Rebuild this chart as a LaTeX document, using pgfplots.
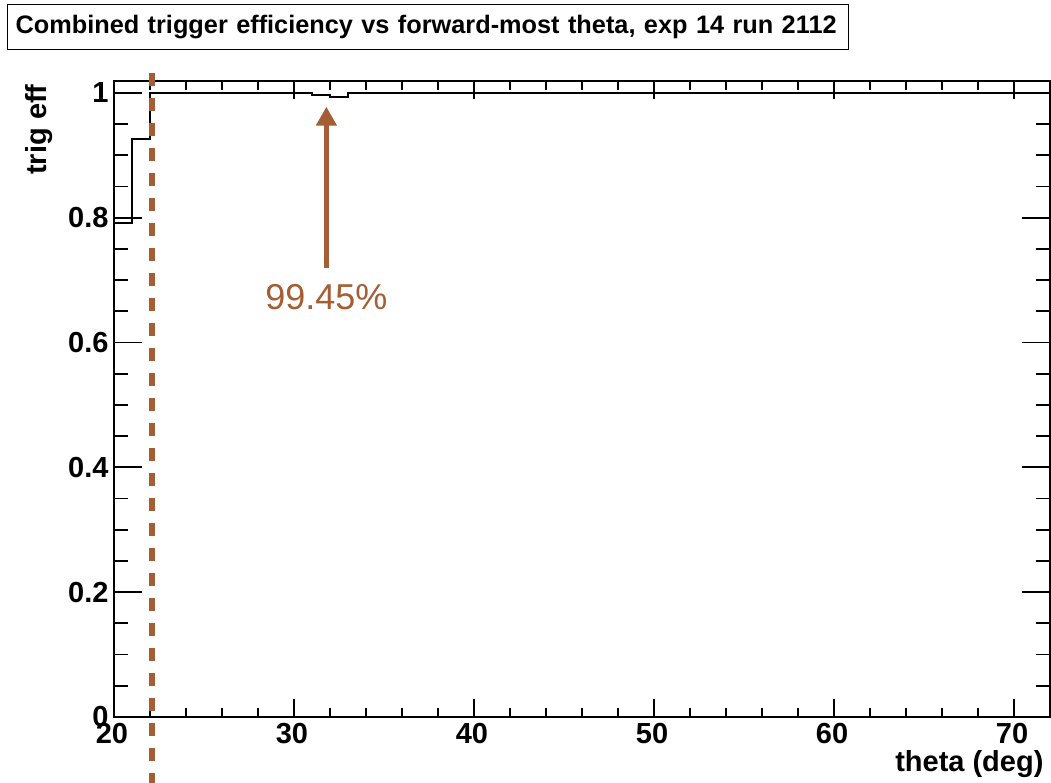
\documentclass[border=0pt]{standalone}
\usepackage{pgfplots}
\pgfplotsset{compat=1.18}
\usepackage{fontspec}
\setmainfont{Liberation Sans}
\usetikzlibrary{arrows.meta}
\definecolor{rootbrown}{RGB}{165,94,52}
\newcommand{\fs}[1]{\fontsize{#1}{#1}\selectfont}
\begin{document}
\begin{tikzpicture}
\useasboundingbox (-114bp,-66bp) rectangle (937bp,717bp);
% axis carrying the y ticks, labels and y title
\begin{axis}[
  at={(0,0)}, anchor=south west,
  scale only axis, width=936bp, height=636bp,
  xmin=20, xmax=72, ymin=0, ymax=1.0192,
  axis line style={line width=2bp},
  xtick=\empty,
  ytick={0,0.2,0.4,0.6,0.8,1},
  yticklabels={0,0.2,0.4,0.6,0.8,1},
  minor ytick={0.05,0.1,0.15,0.25,0.3,0.35,0.45,0.5,0.55,0.65,0.7,0.75,0.85,0.9,0.95},
  tick align=inside,
  major tick length=28bp, minor tick length=14bp,
  every tick/.style={line width=1.8bp, black},
  /pgf/number format/assume math mode=true,
  yticklabel style={font=\bfseries\fs{29bp}, xshift=-2bp, yshift=0bp},
  ylabel={trig eff},
  every axis y label/.style={at={(axis description cs:-0.0716,1)}, anchor=base east, rotate=90, font=\bfseries\fs{29bp}},
]
\end{axis}
\begin{axis}[
  at={(0,0)}, anchor=south west,
  scale only axis, width=936bp, height=636bp,
  xmin=20, xmax=72, ymin=0, ymax=1.0192,
  clip=false,
  axis line style={line width=2bp},
  xtick={20,30,40,50,60,70},
  minor xtick={22,24,26,28,32,34,36,38,42,44,46,48,52,54,56,58,62,64,66,68,72},
  ytick=\empty,
  tick align=inside,
  major tick length=18bp, minor tick length=9bp,
  every tick/.style={line width=1.8bp, black},
  /pgf/number format/assume math mode=true,
  xticklabel style={font=\bfseries\fs{29bp}, yshift=-3bp, xshift=-2bp},
  xlabel={theta (deg)},
  every axis x label/.style={at={(axis description cs:0.9968,-0.0833)}, anchor=base east, yshift=-2bp, font=\bfseries\fs{29bp}},
  title={\mbox{Combined trigger efficiency vs forward-most theta, exp 14 run 2112}},
  every axis title/.style={at={(axis description cs:-0.1143,1.1211)}, anchor=north west, draw=black, line width=1.2bp, font=\bfseries\fs{25.3bp}, text width=825bp, align=left, inner xsep=8bp, minimum height=45bp, fill=white},
]
\addplot[const plot mark left, black, line width=1.8bp] coordinates {
(20,0.792) (21,0.926) (22,0.9995) (23,0.9995) (24,0.9995) (25,0.9995)
(26,0.9995) (27,0.9995) (28,0.9995) (29,0.9995) (30,0.9995) (31,0.997)
(32,0.994) (33,0.9995) (34,0.9995) (35,0.9995) (36,0.9995) (37,0.9995)
(38,0.9995) (39,0.9995) (40,0.9995) (41,0.9995) (42,0.9995) (43,0.9995)
(44,0.9995) (45,0.9995) (46,0.9995) (47,0.9995) (48,0.9995) (49,0.9995)
(50,0.9995) (51,0.9995) (52,0.9995) (53,0.9995) (54,0.9995) (55,0.9995)
(56,0.9995) (57,0.9995) (58,0.9995) (59,0.9995) (60,0.9995) (61,0.9995)
(62,0.9995) (63,0.9995) (64,0.9995) (65,0.9995) (66,0.9995) (67,0.9995)
(68,0.9995) (69,0.9995) (70,0.9995) (71,0.9995) (72,0.9995)
};
\addplot[rootbrown, line width=6.5bp, dash pattern=on 13bp off 12bp] coordinates {(22.1,1.0321) (22.1,-0.106)};
\draw[rootbrown, line width=5bp, -{Triangle[width=20bp,length=19bp]}] (axis cs:31.8,0.72) -- (axis cs:31.8,0.978);
\node[rootbrown, font=\fs{36bp}] at (axis cs:31.8,0.673) {99.45\%};
\end{axis}
\end{tikzpicture}
\end{document}
